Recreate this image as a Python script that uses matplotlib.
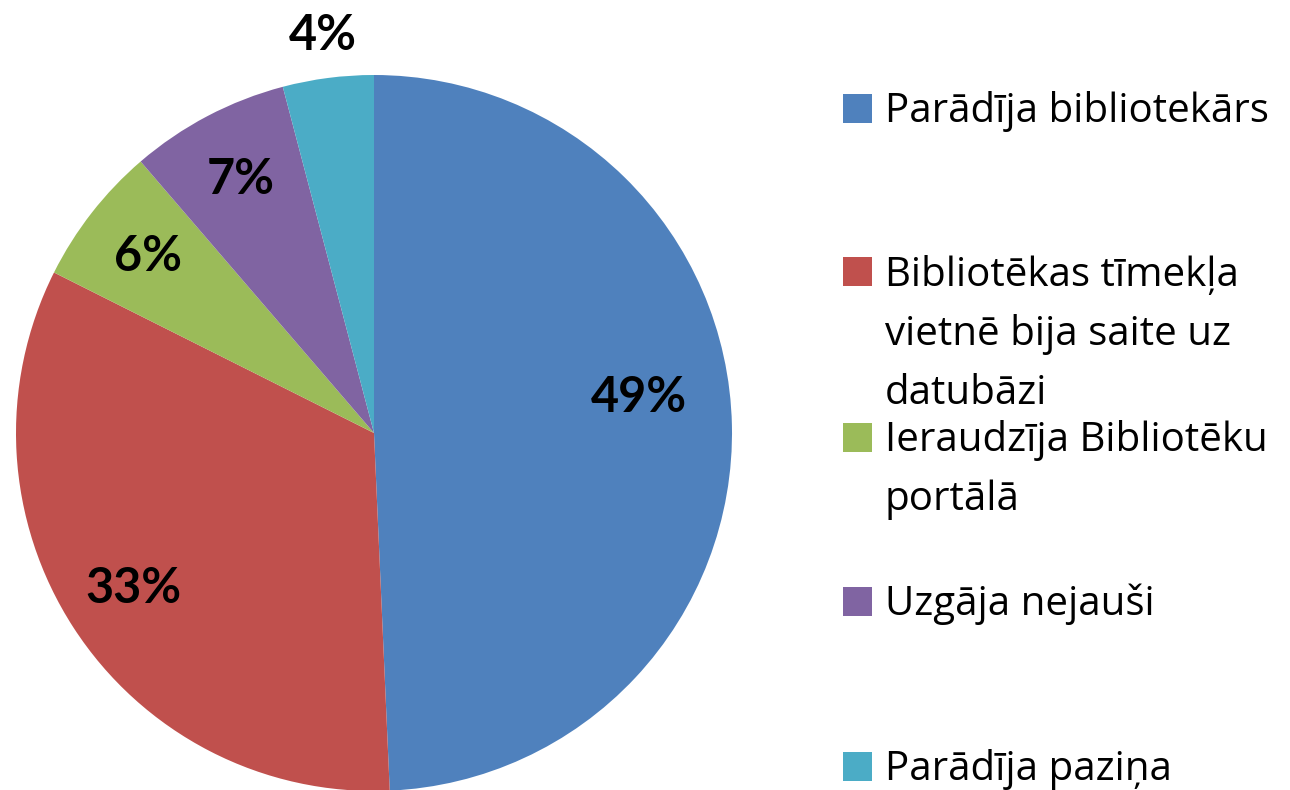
import matplotlib
matplotlib.use("Agg")
from matplotlib import pyplot as plt
from matplotlib.patches import Rectangle

# shares of answers, percent
labels = [
    "Parādīja bibliotekārs",
    "Bibliotēkas tīmekļa\nvietnē bija saite uz\ndatubāzi",
    "Ieraudzīja Bibliotēku\nportālā",
    "Uzgāja nejauši",
    "Parādīja paziņa",
]
shares = [49.3, 33.1, 6.3, 7.2, 4.1]
colors = ["#4F81BD", "#C0504D", "#9BBB59", "#8064A2", "#4BACC6"]

W, H = 1290, 790
fig = plt.figure(figsize=(W / 100, H / 100), dpi=100)

cx, cy, r = 374, 433, 358
ax = fig.add_axes([(cx - r) / W, 1 - (cy + r) / H, 2 * r / W, 2 * r / H])
wedges, texts, autotexts = ax.pie(
    shares,
    colors=colors,
    startangle=90,
    counterclock=False,
    autopct="%.0f%%",
    pctdistance=0.8,
    wedgeprops={"linewidth": 0},
    textprops={"fontsize": 35, "fontweight": "bold", "family": "Lato"},
)
ax.set_xlim(-1, 1)
ax.set_ylim(-1, 1)
ax.set_aspect("auto")

# label placement like the original chart
autotexts[0].set_position((0.74, 0.098))
x, y = autotexts[4].get_position()
autotexts[4].set_position((x * 1.12 / 0.8, y * 1.12 / 0.8))

# legend, drawn by hand: square + top-aligned wrapped text
row_y = [108, 272, 437, 601, 766]
line_h = 59
for lab, col, yc in zip(labels, colors, row_y):
    fig.add_artist(Rectangle((843 / W, 1 - (yc + 14.5) / H), 29 / W, 29 / H,
                             transform=fig.transFigure, facecolor=col, edgecolor="none"))
    for k, line in enumerate(lab.split("\n")):
        fig.text(885 / W, 1 - (yc + 14 + k * line_h) / H, line,
                 fontsize=29, family="Open Sans", va="baseline", ha="left")

fig.savefig("out.png", dpi=100)
